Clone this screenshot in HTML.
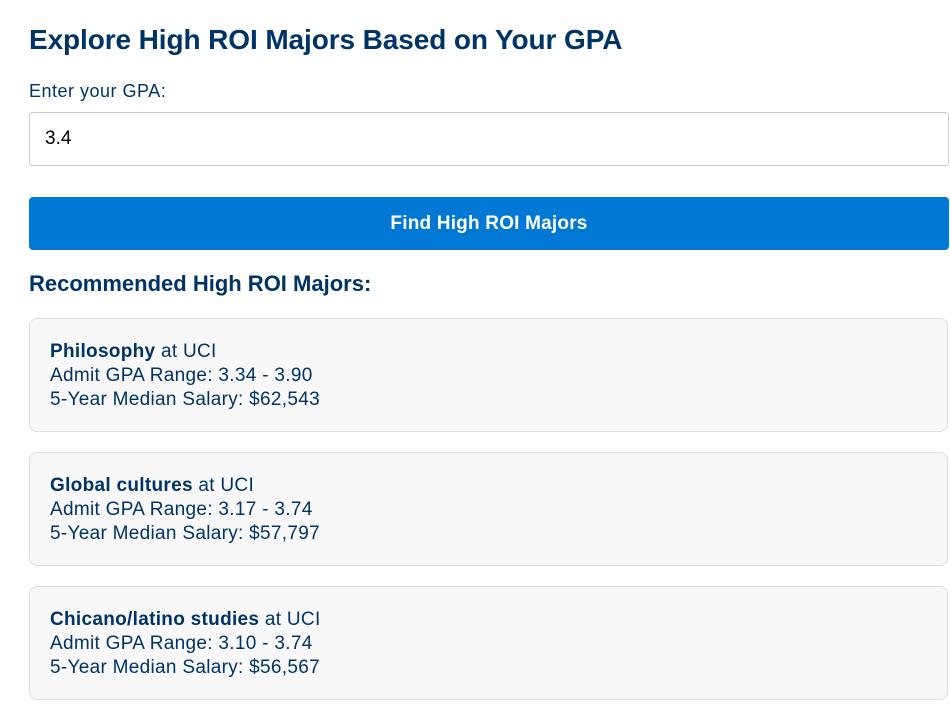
<!DOCTYPE html>
<html><head><meta charset="utf-8"><style>
body{margin:0;width:950px;height:708px;background:#fff;font-family:"Liberation Sans",sans-serif;color:#003366;overflow:hidden;position:relative}
.a{position:absolute}
h1{position:absolute;left:29px;top:22px;margin:0;font-size:28px;font-weight:bold;line-height:36px;letter-spacing:-0.1px}
.lbl{left:29px;top:79px;font-size:18px;line-height:24px;letter-spacing:0.5px}
.inp{left:29px;top:112px;width:920px;height:54px;border:1px solid #ccc;border-radius:4px;box-sizing:border-box;font-size:19px;color:#000;padding-left:15px;line-height:52px}
.btn{left:29px;top:197px;width:920px;height:53px;background:#0078d4;border-radius:4px;color:#fff;font-weight:bold;font-size:19px;text-align:center;line-height:53px;letter-spacing:0.2px}
h2{position:absolute;left:29px;top:270px;margin:0;font-size:22px;font-weight:bold;line-height:28px}
.card{left:29px;width:919px;height:114px;background:#f8f8f8;border:1px solid #ddd;border-radius:8px;box-sizing:border-box;padding:21px 20px;font-size:19px;line-height:24px;letter-spacing:0.3px}
</style></head><body>
<h1>Explore High ROI Majors Based on Your GPA</h1>
<div class="a lbl">Enter your GPA:</div>
<div class="a inp">3.4</div>
<div class="a btn">Find High ROI Majors</div>
<h2>Recommended High ROI Majors:</h2>
<div class="a card" style="top:318px"><b>Philosophy</b> at UCI<br>Admit GPA Range: 3.34 - 3.90<br>5-Year Median Salary: $62,543</div>
<div class="a card" style="top:452px"><b>Global cultures</b> at UCI<br>Admit GPA Range: 3.17 - 3.74<br>5-Year Median Salary: $57,797</div>
<div class="a card" style="top:586px"><b>Chicano/latino studies</b> at UCI<br>Admit GPA Range: 3.10 - 3.74<br>5-Year Median Salary: $56,567</div>
</body></html>
